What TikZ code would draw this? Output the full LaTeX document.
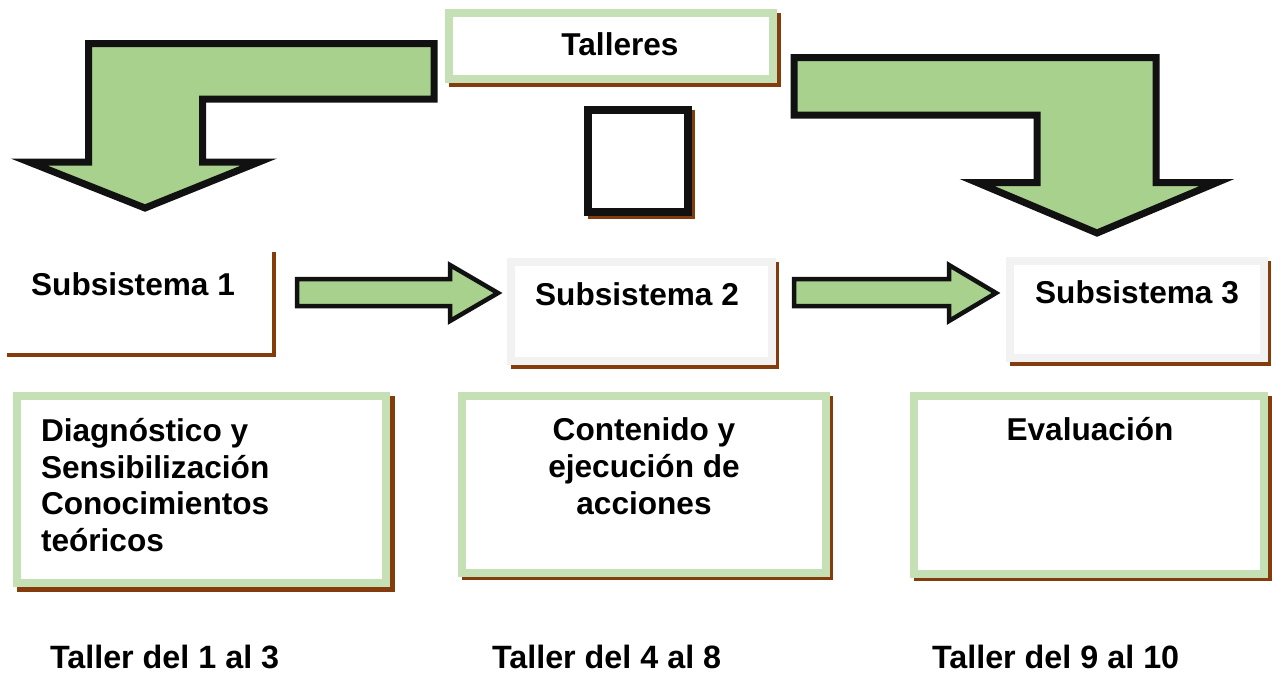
\documentclass[tikz,border=0pt]{standalone}
\usepackage{fontspec}
\setmainfont{Liberation Sans}
\usetikzlibrary{backgrounds}
\definecolor{arrowgreen}{HTML}{A9D18E}
\definecolor{boxgreen}{HTML}{C5E0B4}
\definecolor{shadowbrown}{HTML}{843C0C}
\definecolor{boxgray}{HTML}{F2F2F2}
\definecolor{outline}{HTML}{111111}
\begin{document}
\begin{tikzpicture}[x=1pt,y=-1pt,
  lbl/.style={font=\fontsize{31.6}{36.7}\selectfont\bfseries, inner sep=0pt, outer sep=0pt, text=black},
  foot/.style={lbl, font=\fontsize{32.3}{36.7}\selectfont\bfseries},
  frame/.style={line width=8pt, fill=white, inner sep=0pt, outer sep=0pt},
  bent/.style={draw=outline, fill=arrowgreen, line width=7pt, line join=miter, miter limit=10},
  flat/.style={draw=outline, fill=arrowgreen, line width=4.5pt, line join=miter, miter limit=10},
  shadowc/.style={fill=shadowbrown}]
\useasboundingbox (0,0) rectangle (1272,675);

% boxes
\node[frame, draw=boxgreen, minimum width=324pt, minimum height=66pt] (tal) at (611,46) {};
\node[frame, draw=outline, minimum width=100pt, minimum height=102pt] (sq) at (638,161) {};
\node[fill=white, inner sep=0pt, outer sep=0pt, minimum width=268pt, minimum height=104pt] (s1) at (138,301) {};
\node[frame, draw=boxgray, minimum width=261pt, minimum height=99pt] (s2) at (641.5,311.5) {};
\node[frame, draw=boxgray, minimum width=254pt, minimum height=97pt] (s3) at (1137,309.5) {};
\node[frame, draw=boxgreen, minimum width=369pt, minimum height=187pt] (b1) at (201.5,489.5) {};
\node[frame, draw=boxgreen, minimum width=364pt, minimum height=177pt] (b2) at (644,484.5) {};
\node[frame, draw=boxgreen, minimum width=350pt, minimum height=178pt] (b3) at (1089,485) {};

\begin{scope}[on background layer]
  \fill[shadowc] (tal.north west) rectangle ([shift={(7.5,7.5)}]tal.south east);
  \fill[shadowc] (sq.north west) rectangle ([shift={(7,7)}]sq.south east);
  \fill[shadowc] ([shift={(3,3)}]s1.north west) rectangle ([shift={(3.5,3.5)}]s1.south east);
  \fill[shadowc] (s2.north west) rectangle ([shift={(7,8)}]s2.south east);
  \fill[shadowc] (s3.north west) rectangle ([shift={(7,8)}]s3.south east);
  \fill[shadowc] (b1.north west) rectangle ([shift={(9,9)}]b1.south east);
  \fill[shadowc] (b2.north west) rectangle ([shift={(7,7)}]b2.south east);
  \fill[shadowc] (b3.north west) rectangle ([shift={(8,7)}]b3.south east);
\end{scope}

% texts
\node[lbl, anchor=base] (ttal) at (620,55) {Talleres};
\node[lbl, anchor=base] (ts1) at (133,295) {Subsistema 1};
\node[lbl, anchor=base] (ts2) at (637,305) {Subsistema 2};
\node[lbl, anchor=base] (ts3) at (1137,303) {Subsistema 3};
\node[lbl, anchor=west, align=left] (tb1) at (41,485) {Diagnóstico y\\Sensibilización\\Conocimientos\\teóricos};
\node[lbl, align=center] (tb2) at (644,466) {Contenido y\\ejecución de\\acciones};
\node[lbl, anchor=base] (tb3) at (1090,440) {Evaluación};
\node[foot, anchor=base west] (l1) at (50,668) {Taller del 1 al 3};
\node[foot, anchor=base west] (l2) at (492,668) {Taller del 4 al 8};
\node[foot, anchor=base west] (l3) at (932,668) {Taller del 9 al 10};

% bent arrows
\draw[bent] (88.5,43.5) -- (434,43.5) -- (434,99) -- (202.5,99) -- (202.5,162)
  -- (259,162) -- (145,208) -- (29,162) -- (88.5,162) -- cycle;
\draw[bent] (794,57.5) -- (1156,57.5) -- (1156,182.5) -- (1217,182.5) -- (1097,233)
  -- (977,182.5) -- (1037,182.5) -- (1037,115) -- (794,115) -- cycle;

% horizontal block arrows
\draw[flat] (297,279) -- (450,279) -- (450,265) -- (498,293) -- (450,321) -- (450,306) -- (297,306) -- cycle;
\draw[flat] (794,279) -- (949,279) -- (949,265) -- (996,293) -- (949,321) -- (949,306) -- (794,306) -- cycle;
\end{tikzpicture}
\end{document}
